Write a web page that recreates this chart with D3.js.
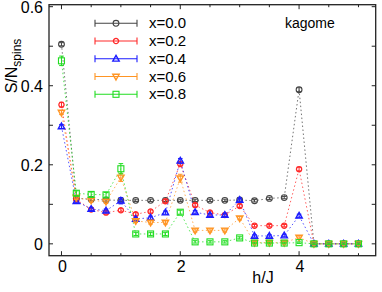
<!DOCTYPE html>
<html>
<head>
<meta charset="utf-8">
<script src="https://cdn.jsdelivr.net/npm/d3@7"></script>
<style>
body {margin:0;background:#fff;}
text {font-family:"Liberation Sans", Arial, sans-serif;fill:#000;}
</style>
</head>
<body>
<svg id="chart" width="382" height="292"></svg>
<script>
// field values h/J
var hVals = [0,0.25,0.5,0.75,1,1.25,1.5,1.75,2,2.25,2.5,2.75,3,3.25,3.5,3.75,4,4.25,4.5,4.75,5]

// S/N_spins for each dilution x
var s00 = [0.505,0.115,0.113,0.111,0.11,0.11,0.11,0.11,0.11,0.11,0.11,0.11,0.111,0.109,0.115,0.117,0.39,0,0,0,0]
var s02 = [0.352,0.112,0.087,0.079,0.085,0.075,0.082,0.108,0.202,0.098,0.079,0.073,0.096,0.046,0.046,0.046,0.189,0,0,0,0]
var s04 = [0.297,0.108,0.088,0.084,0.109,0.063,0.066,0.079,0.21,0.08,0.073,0.073,0.111,0.02,0.02,0.021,0.071,0,0,0,0]
var s06 = [0.332,0.117,0.11,0.107,0.168,0.058,0.054,0.054,0.166,0.034,0.034,0.034,0.065,0.003,0.003,0.003,0.016,0,0,0,0]
var s08 = [0.463,0.128,0.125,0.124,0.19,0.025,0.025,0.025,0.08,0.005,0.005,0.005,0.015,0.002,0.002,0.002,0.003,0,0,0,0]

// error bars
var e00 = [0.004,0.003,0.003,0.003,0.003,0.003,0.003,0.003,0.003,0.003,0.003,0.003,0.003,0.003,0.003,0.003,0.005,0.002,0.002,0.002,0.002]
var e02 = [0.006,0.004,0.004,0.004,0.004,0.004,0.004,0.004,0.005,0.004,0.004,0.004,0.004,0.003,0.003,0.003,0.005,0.002,0.002,0.002,0.002]
var e04 = [0.005,0.004,0.004,0.004,0.008,0.004,0.004,0.004,0.006,0.004,0.004,0.004,0.005,0.003,0.003,0.003,0.004,0.002,0.002,0.002,0.002]
var e06 = [0.005,0.005,0.005,0.005,0.01,0.004,0.004,0.004,0.01,0.004,0.004,0.004,0.004,0.003,0.003,0.003,0.004,0.002,0.002,0.002,0.002]
var e08 = [0.012,0.006,0.006,0.006,0.013,0.004,0.004,0.004,0.005,0.003,0.003,0.003,0.003,0.002,0.002,0.002,0.002,0.002,0.002,0.002,0.002]

var seriesNames = ['x=0.0','x=0.2','x=0.4','x=0.6','x=0.8']
var xTicks = [0,2,4]
var yTicks = [0,0.2,0.4,0.6]

var series = [
  {name:seriesNames[0], vals:s00, err:e00, color:'#444444', shape:'circle'},
  {name:seriesNames[1], vals:s02, err:e02, color:'#ff2a2a', shape:'dot'},
  {name:seriesNames[2], vals:s04, err:e04, color:'#1c1cff', shape:'tri'},
  {name:seriesNames[3], vals:s06, err:e06, color:'#ff9524', shape:'tridown'},
  {name:seriesNames[4], vals:s08, err:e08, color:'#22dd22', shape:'square'}
]

var L = 49, R = 375.7, T = 4.7, B = 255.7
var x = d3.scaleLinear().domain([-0.21,5.29]).range([L,R])
var y = d3.scaleLinear().domain([-0.03,0.605]).range([B,T])

var svg = d3.select('#chart')

// lines
var line = d3.line().x(function(d){return x(d[0])}).y(function(d){return y(d[1])})
series.forEach(function(s){
  svg.append('path')
    .datum(hVals.map(function(h,i){return [h,s.vals[i]]}))
    .attr('d', line)
    .attr('fill','none')
    .attr('stroke', s.color)
    .attr('stroke-opacity',0.75)
    .attr('stroke-width',1)
    .attr('stroke-dasharray','1.5,2.5')
})

function marker(g, shape, color) {
  if (shape === 'circle') g.append('circle').attr('r',2.9).attr('fill','none').attr('stroke',color).attr('stroke-width',1.1)
  if (shape === 'dot') g.append('circle').attr('r',2.6).attr('fill','none').attr('stroke',color).attr('stroke-width',1.3)
  if (shape === 'square') g.append('rect').attr('x',-3).attr('y',-3).attr('width',6).attr('height',6).attr('fill','none').attr('stroke',color).attr('stroke-width',1.1)
  if (shape === 'tri') g.append('path').attr('d','M0,-3.4L3.2,2.3L-3.2,2.3Z').attr('fill','none').attr('stroke',color).attr('stroke-width',1.4)
  if (shape === 'tridown') g.append('path').attr('d','M0,3.4L3.2,-2.3L-3.2,-2.3Z').attr('fill','none').attr('stroke',color).attr('stroke-width',1.4)
}

// points with error bars
series.forEach(function(s){
  hVals.forEach(function(h,i){
    var g = svg.append('g').attr('transform','translate(' + x(h) + ',' + y(s.vals[i]) + ')')
    var dy = y(s.vals[i] - s.err[i]) - y(s.vals[i])
    g.append('path')
      .attr('d','M0,' + (-dy) + 'V' + dy + 'M-2.3,' + (-dy) + 'H2.3M-2.3,' + dy + 'H2.3')
      .attr('stroke', s.color).attr('stroke-width',1).attr('fill','none')
    marker(g, s.shape, s.color)
  })
})

// frame
svg.append('rect').attr('x',L).attr('y',T).attr('width',R-L).attr('height',B-T)
  .attr('fill','none').attr('stroke','#222').attr('stroke-width',1.3)

// ticks on all sides
var xMinor = d3.range(0,5.01,0.5)
var yMinor = d3.range(0,0.61,0.1)
xMinor.forEach(function(v){
  var len = (v % 2 === 0) ? 4.5 : 2.5
  svg.append('line').attr('x1',x(v)).attr('x2',x(v)).attr('y1',B).attr('y2',B-len).attr('stroke','#222')
  svg.append('line').attr('x1',x(v)).attr('x2',x(v)).attr('y1',T).attr('y2',T+len).attr('stroke','#222')
})
yMinor.forEach(function(v){
  svg.append('line').attr('x1',L).attr('x2',L+4).attr('y1',y(v)).attr('y2',y(v)).attr('stroke','#222')
  svg.append('line').attr('x1',R).attr('x2',R-4).attr('y1',y(v)).attr('y2',y(v)).attr('stroke','#222')
})

// tick labels
svg.selectAll('.xl').data(xTicks).enter().append('text')
  .attr('x',function(d){return x(d)+1}).attr('y',B+16)
  .attr('text-anchor','middle').style('font-size','16px')
  .text(function(d){return d})
svg.selectAll('.yl').data(yTicks).enter().append('text')
  .attr('x',L-6).attr('y',function(d){return y(d)+6})
  .attr('text-anchor','end').style('font-size','16px')
  .text(function(d){return d === 0 ? '0' : d.toFixed(1)})

// axis titles
svg.append('text').attr('x',263).attr('y',283).attr('text-anchor','middle').style('font-size','16px').text('h/J')
var yl = svg.append('text').attr('transform','translate(17,66) rotate(-90)').attr('text-anchor','middle').style('font-size','16px')
yl.append('tspan').text('S/N')
yl.append('tspan').attr('dy',4).style('font-size','12px').text('spins')

svg.append('text').attr('x',285).attr('y',28).style('font-size','14px').text('kagome')

// legend
series.forEach(function(s,i){
  var ly = 23.3 + i*17.75
  var g = svg.append('g').attr('transform','translate(116,' + ly + ')')
  g.append('path').attr('d','M-21,0H21M-21,-3.5V3.5M21,-3.5V3.5').attr('stroke',s.color).attr('stroke-width',1.1).attr('fill','none')
  marker(g, s.shape, s.color)
  svg.append('text').attr('x',149).attr('y',ly+5).style('font-size','15px').text(s.name)
})
</script>
</body>
</html>
